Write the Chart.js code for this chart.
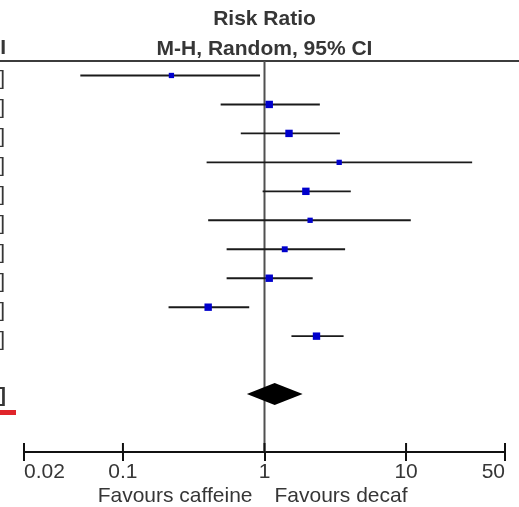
<!DOCTYPE html>
<html>
<head>
<meta charset="utf-8">
<script src="https://cdn.jsdelivr.net/npm/chart.js@4.4.1/dist/chart.umd.min.js"></script>
<style>
  html, body { margin: 0; padding: 0; background: #fff; overflow: hidden; }
  #wrap { width: 519px; height: 507px; }
</style>
</head>
<body>
<div id="wrap"><canvas id="forest"></canvas></div>
<script>
// study rows (top to bottom)
const rows = [1, 2, 3, 4, 5, 6, 7, 8, 9, 10];
const riskRatio = [0.22, 1.08, 1.49, 3.37, 1.96, 2.10, 1.39, 1.08, 0.40, 2.33];
const ciLower = [0.05, 0.49, 0.68, 0.39, 0.97, 0.40, 0.54, 0.54, 0.21, 1.55];
const ciUpper = [0.93, 2.46, 3.41, 29.3, 4.07, 10.8, 3.71, 2.19, 0.78, 3.62];
const weights = [6, 13, 13, 6, 13, 6, 8, 13, 13, 13];

// pooled estimate
const pooledRow = 12;
const pooledRR = [1.18];
const pooledCI = [0.75, 1.86];

const tickValues = [0.02, 0.1, 1, 10, 50];
const tickLabels = ["0.02", "0.1", "1", "10", "50"];
const favourLabels = ["Favours caffeine", "Favours decaf"];

const textColor = "#363636";
const FONT = "'Liberation Sans', Arial, sans-serif";

function fmt(v) { return v.toFixed(2); }

// CI whiskers, one small line dataset each
const ciSets = rows.map((r, i) => ({
    type: "line",
    data: [{ x: ciLower[i], y: r }, { x: ciUpper[i], y: r }],
    borderColor: "#1a1a1a",
    borderWidth: 1.9,
    pointRadius: 0,
    showLine: true,
    order: 2
}));

const pointSet = {
    type: "scatter",
    data: rows.map((r, i) => ({ x: riskRatio[i], y: r })),
    pointStyle: "rect",
    pointRadius: weights.map(w => (3.5 + 0.3 * w) / Math.SQRT2),
    pointBackgroundColor: "#0000cc",
    pointBorderWidth: 0,
    order: 1
};

const forestDecor = {
    id: "forestDecor",
    beforeDatasetsDraw(chart) {
        const { ctx, chartArea, scales: { x, y } } = chart;
        const x1 = x.getPixelForValue(1);
        ctx.save();
        // header rule
        ctx.strokeStyle = "#3c3c3c";
        ctx.lineWidth = 2;
        ctx.beginPath();
        ctx.moveTo(0, chartArea.top);
        ctx.lineTo(chart.width, chartArea.top);
        ctx.stroke();
        // line of no effect
        ctx.strokeStyle = "#505050";
        ctx.beginPath();
        ctx.moveTo(x1, chartArea.top);
        ctx.lineTo(x1, chartArea.bottom);
        ctx.stroke();
        ctx.restore();
    },
    afterDatasetsDraw(chart) {
        const { ctx, chartArea, scales: { x, y } } = chart;
        const x1 = x.getPixelForValue(1);
        ctx.save();

        // pooled diamond
        const yp = y.getPixelForValue(pooledRow);
        ctx.fillStyle = "#000";
        ctx.beginPath();
        ctx.moveTo(x.getPixelForValue(pooledCI[0]), yp);
        ctx.lineTo(x.getPixelForValue(pooledRR[0]), yp - 11);
        ctx.lineTo(x.getPixelForValue(pooledCI[1]), yp);
        ctx.lineTo(x.getPixelForValue(pooledRR[0]), yp + 11);
        ctx.closePath();
        ctx.fill();

        // upward half of axis ticks
        ctx.strokeStyle = "#111";
        ctx.lineWidth = 2;
        tickValues.forEach(v => {
            const px = x.getPixelForValue(v);
            ctx.beginPath();
            ctx.moveTo(px, chartArea.bottom - 9);
            ctx.lineTo(px, chartArea.bottom);
            ctx.stroke();
        });

        // header text
        ctx.fillStyle = textColor;
        ctx.font = "bold 21px " + FONT;
        ctx.textAlign = "center";
        ctx.textBaseline = "alphabetic";
        ctx.fillText("Risk Ratio", x1, 25);
        ctx.fillText("M-H, Random, 95% CI", x1, 55);
        ctx.textAlign = "right";
        ctx.fillText("95% CI", 6, 54);

        // cropped CI text column on the left edge
        ctx.font = "21px " + FONT;
        rows.forEach((r, i) => {
            const txt = fmt(riskRatio[i]) + " [" + fmt(ciLower[i]) + ", " + fmt(ciUpper[i]) + "]";
            ctx.fillText(txt, 5, y.getPixelForValue(r) + 10);
        });
        ctx.font = "bold 21px " + FONT;
        ctx.fillText(fmt(pooledRR[0]) + " [" + fmt(pooledCI[0]) + ", " + fmt(pooledCI[1]) + "]", 6, yp + 8);

        ctx.fillStyle = "#e0242a";
        ctx.fillRect(0, 410, 16, 5);

        // favours labels
        ctx.fillStyle = textColor;
        ctx.font = "21px " + FONT;
        ctx.textAlign = "right";
        ctx.fillText(favourLabels[0], x1 - 12, 502);
        ctx.textAlign = "left";
        ctx.fillText(favourLabels[1], x1 + 10, 502);
        ctx.restore();
    }
};

new Chart(document.getElementById("forest"), {
    data: { datasets: [...ciSets, pointSet] },
    options: {
        responsive: true,
        maintainAspectRatio: false,
        animation: false,
        layout: { padding: { left: 24, right: 14, top: 61, bottom: 15 } },
        plugins: { legend: { display: false }, tooltip: { enabled: false } },
        scales: {
            x: {
                type: "logarithmic",
                position: "bottom",
                min: 0.02,
                max: 50,
                afterBuildTicks: (s) => { s.ticks = tickValues.map(v => ({ value: v })); },
                afterFit: (s) => { s.height = 40; },
                border: { display: true, color: "#111", width: 2 },
                grid: { drawOnChartArea: false, drawTicks: true, tickLength: 9, color: "#111", lineWidth: 2 },
                ticks: {
                    align: "inner",
                    maxRotation: 0,
                    autoSkip: false,
                    padding: -1,
                    color: textColor,
                    font: { family: FONT, size: 21 },
                    callback: (v, i) => tickLabels[i]
                }
            },
            y: {
                type: "linear",
                display: false,
                reverse: true,
                min: 0.5,
                max: 14
            }
        }
    },
    plugins: [forestDecor]
});
</script>
</body>
</html>
